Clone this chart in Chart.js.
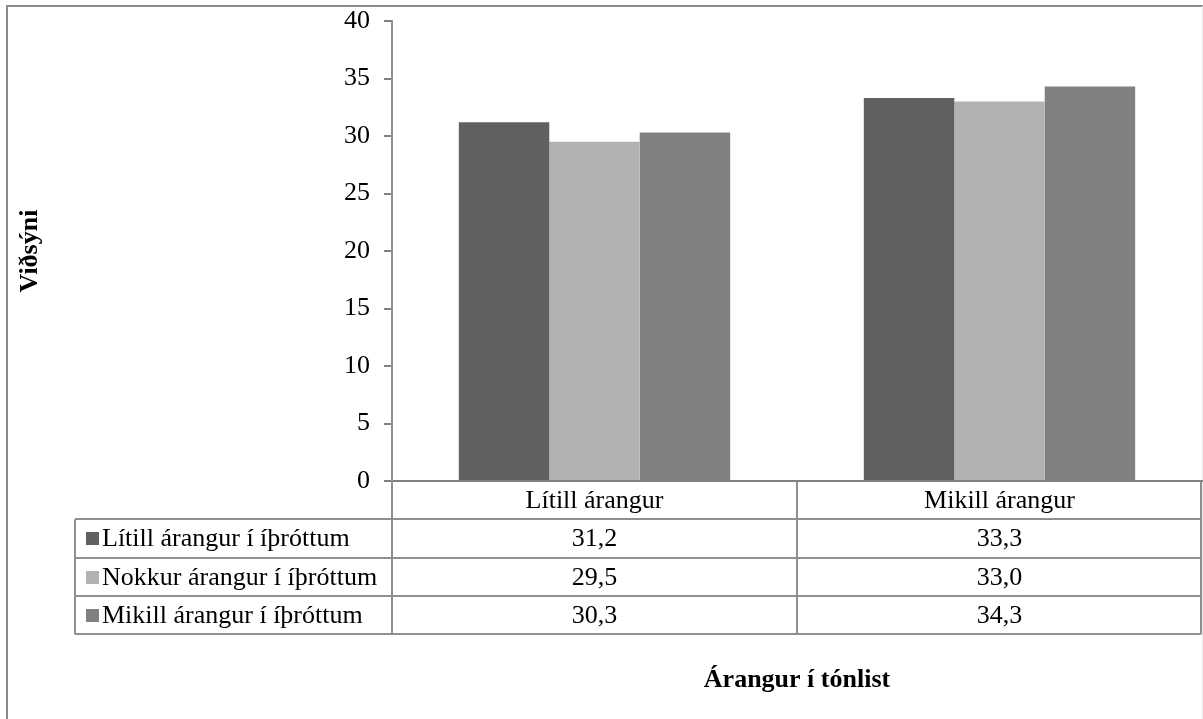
<!DOCTYPE html>
<html>
<head>
<meta charset="utf-8">
<script src="https://cdn.jsdelivr.net/npm/chart.js@4"></script>
<style>
	body { margin: 0; background: #fff; }
	#marco { position: absolute; left: 6px; top: 5px; width: 1194px; height: 760px;
		border-top: 2px solid #8a8a8a; border-left: 2px solid #8a8a8a; border-right: 1px solid #ececec; }
	#contenedor { position: absolute; left: 0; top: 0; width: 1203px; height: 719px; }
</style>
</head>
<body>
<div id="marco"></div>
<div id="contenedor"><canvas id="canvasViðsýni"></canvas></div>
<script>
// datos del grafico
var categorias = ['Lítill árangur', 'Mikill árangur'];
var series = ['Lítill árangur í íþróttum', 'Nokkur árangur í íþróttum', 'Mikill árangur í íþróttum'];
var litillIthrottum = [31.2, 33.3];
var nokkurIthrottum = [29.5, 33.0];
var mikillIthrottum = [30.3, 34.3];
var yMin = 0, yMax = 40, yPaso = 5;

var colores = ['#606060', '#b2b2b2', '#808080'];
var fuente = "'Liberation Serif', 'Times New Roman', serif";
var colorLinea = '#8f8f8f';

function numero(v){
	return v.toFixed(1).replace('.', ',');
}

// tabla de datos debajo del eje x
var tablaDatos = {
	id: 'tablaDatos',
	afterDraw: function(chart){
		var ctx = chart.ctx;
		var area = chart.chartArea;
		var xs = chart.scales.x;
		var valores = chart.data.datasets.map(function(d){ return d.data; });
		var filaAlto = 38.3;
		var izq = 75;
		var der = area.right - 1;
		var top = area.bottom;
		var cols = [area.left];
		for (var i = 0; i < categorias.length - 1; i++) {
			cols.push((xs.getPixelForValue(i) + xs.getPixelForValue(i + 1)) / 2);
		}
		cols.push(der);
		var fondo = top + filaAlto * (series.length + 1);

		ctx.save();
		ctx.strokeStyle = colorLinea;
		ctx.lineWidth = 2;
		ctx.beginPath();
		// lineas horizontales
		for (var r = 1; r <= series.length + 1; r++) {
			var y = Math.round(top + filaAlto * r);
			ctx.moveTo(izq, y);
			ctx.lineTo(der, y);
		}
		// lineas verticales
		ctx.moveTo(izq, top + filaAlto);
		ctx.lineTo(izq, fondo);
		cols.forEach(function(cx){
			ctx.moveTo(Math.round(cx), top);
			ctx.lineTo(Math.round(cx), fondo);
		});
		ctx.stroke();

		ctx.fillStyle = '#000';
		ctx.font = '26px ' + fuente;
		ctx.textBaseline = 'middle';
		ctx.textAlign = 'center';
		categorias.forEach(function(c, i){
			ctx.fillText(c, xs.getPixelForValue(i), top + filaAlto / 2 + 1);
		});
		series.forEach(function(s, j){
			var yc = top + filaAlto * (j + 1.5) + 1;
			ctx.fillStyle = colores[j];
			ctx.fillRect(86, Math.round(yc - 7), 13, 13);
			ctx.fillStyle = '#000';
			ctx.textAlign = 'left';
			ctx.fillText(s, 102, yc);
			ctx.textAlign = 'center';
			valores[j].forEach(function(v, i){
				ctx.fillText(numero(v), xs.getPixelForValue(i), yc);
			});
		});
		ctx.restore();
	}
};

window.onload = function(){
	var barras = [litillIthrottum, nokkurIthrottum, mikillIthrottum].map(function(d, j){
		return {
			label: series[j],
			data: d,
			backgroundColor: colores[j],
			borderWidth: 0,
			categoryPercentage: 0.67,
			barPercentage: 1.0
		};
	});

	var ctx = document.getElementById('canvasViðsýni').getContext('2d');
	window.myBar = new Chart(ctx, {
		type: 'bar',
		data: { labels: categorias, datasets: barras },
		plugins: [tablaDatos],
		options: {
			responsive: true,
			maintainAspectRatio: false,
			animation: false,
			layout: { padding: { top: 21, right: 1, left: 0, bottom: 0 } },
			plugins: {
				legend: { display: false },
				tooltip: { enabled: false }
			},
			scales: {
				x: {
					ticks: { display: false },
					grid: { display: false },
					border: { display: true, color: '#808080', width: 2 },
					title: {
						display: true,
						text: 'Árangur í tónlist',
						color: '#000',
						font: { family: fuente, size: 26, weight: 'bold' },
						padding: { top: 0, bottom: 23 }
					},
					afterFit: function(scale){ scale.height = 238; }
				},
				y: {
					min: yMin,
					max: yMax,
					ticks: {
						stepSize: yPaso,
						color: '#000',
						padding: 14,
						font: { family: fuente, size: 26 }
					},
					grid: { drawOnChartArea: false, tickLength: 8, color: '#808080', lineWidth: 2 },
					border: { display: true, color: '#8f8f8f', width: 2 },
					title: {
						display: true,
						text: 'Viðsýni',
						color: '#000',
						font: { family: fuente, size: 26, weight: 'bold' },
						padding: { top: 15, bottom: 0 }
					},
					afterFit: function(scale){
						scale.width = 392;
						scale.paddingTop = 0;
						scale.paddingBottom = 0;
					}
				}
			}
		}
	});
};
</script>
</body>
</html>
